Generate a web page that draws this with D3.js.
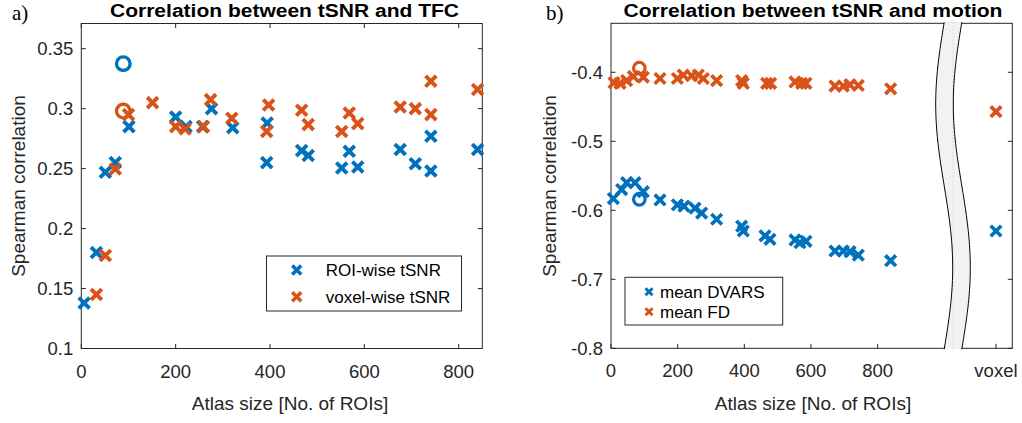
<!DOCTYPE html>
<html><head><meta charset="utf-8">
<script src="https://cdn.jsdelivr.net/npm/d3@7/dist/d3.min.js"></script>
<style>
html,body{margin:0;padding:0;background:#fff;}
svg{display:block;font-family:"Liberation Sans",Arial,sans-serif;}
</style></head>
<body>
<svg id="chart" width="1022" height="423"></svg>
<script>
// ---------- data ----------
// panel a) correlation between tSNR and TFC
const roiX = [6, 32, 51, 72, 101, 200, 222, 257, 276, 321, 394, 393, 467, 481, 552, 568, 586, 676, 708, 741, 741, 840];
const roiY = [0.138, 0.180, 0.247, 0.255, 0.285, 0.293, 0.285, 0.285, 0.300, 0.284, 0.288, 0.255, 0.265, 0.261, 0.2505, 0.2645, 0.2514, 0.266, 0.254, 0.248, 0.277, 0.266];
const voxX = [32, 51, 72, 100, 151, 200, 220, 259, 274, 319, 397, 393, 467, 481, 552, 568, 586, 676, 708, 741, 741, 840];
const voxY = [0.145, 0.1775, 0.2497, 0.295, 0.305, 0.285, 0.283, 0.285, 0.3075, 0.292, 0.303, 0.281, 0.2986, 0.2867, 0.281, 0.2964, 0.2875, 0.3014, 0.300, 0.295, 0.3228, 0.316];
const highlightA = [{x: 89, y: 0.3375, s: 0}, {x: 89, y: 0.298, s: 1}];
const seriesA = ["ROI-wise tSNR", "voxel-wise tSNR"];
const xTicksA = [0, 200, 400, 600, 800];
const yTicksA = [0.1, 0.15, 0.2, 0.25, 0.3, 0.35];

// panel b) correlation between tSNR and motion
const dvarsX = [7, 32, 47, 72, 97, 147, 199, 219, 252, 272, 317, 392, 397, 462, 477, 552, 567, 585, 672, 697, 717, 742, 839];
const dvarsY = [-0.583, -0.570, -0.560, -0.560, -0.573, -0.585, -0.592, -0.594, -0.597, -0.604, -0.613, -0.623, -0.630, -0.637, -0.642, -0.643, -0.647, -0.645, -0.659, -0.659, -0.660, -0.665, -0.673];
const fdX = [9, 27, 47, 67, 97, 147, 199, 217, 242, 262, 277, 317, 392, 397, 467, 479, 552, 572, 585, 672, 697, 717, 742, 839];
const fdY = [-0.415, -0.416, -0.412, -0.406, -0.407, -0.409, -0.409, -0.404, -0.405, -0.404, -0.409, -0.412, -0.412, -0.416, -0.416, -0.416, -0.414, -0.416, -0.416, -0.420, -0.420, -0.418, -0.419, -0.424];
const highlightB = [{x: 85, y: -0.584, s: 0}, {x: 85, y: -0.394, s: 1}];
const voxelX = 1155;
const voxelDvars = -0.630;
const voxelFd = -0.457;
const seriesB = ["mean DVARS", "mean FD"];
const xTicksB = [0, 200, 400, 600, 800];
const yTicksB = [-0.8, -0.7, -0.6, -0.5, -0.4];

const colors = ["#0072BD", "#D95319"];
const axisCol = "#262626";

const svg = d3.select("#chart");

function crossPath(s) {
  return `M${-s},${-s}L${s},${s}M${-s},${s}L${s},${-s}`;
}

function drawCrosses(g, xs, ys, x, y, col, s, w) {
  g.selectAll(null).data(xs.map((d, i) => [d, ys[i]])).enter().append("path")
    .attr("transform", d => `translate(${x(d[0])},${y(d[1])})`)
    .attr("d", crossPath(s))
    .attr("stroke", col).attr("stroke-width", w).attr("fill", "none");
}

function frame(g, x, y, xTicks, yTicks, opts) {
  const [x0, x1] = x.range();
  const [y0, y1] = y.range(); // y0 bottom, y1 top
  const tl = 4.5;
  g.append("rect").attr("x", x0).attr("y", y1).attr("width", x1 - x0).attr("height", y0 - y1)
    .attr("fill", "none").attr("stroke", axisCol).attr("stroke-width", 1);
  xTicks.forEach(t => {
    const px = x(t);
    g.append("line").attr("x1", px).attr("x2", px).attr("y1", y0).attr("y2", y0 - tl).attr("stroke", axisCol);
    if (opts.topTicks) g.append("line").attr("x1", px).attr("x2", px).attr("y1", y1).attr("y2", y1 + tl).attr("stroke", axisCol);
  });
  yTicks.forEach(t => {
    const py = y(t);
    g.append("line").attr("x1", x0).attr("x2", x0 + tl).attr("y1", py).attr("y2", py).attr("stroke", axisCol);
    g.append("line").attr("x1", x1).attr("x2", x1 - tl).attr("y1", py).attr("y2", py).attr("stroke", axisCol);
  });
}

function tickLabels(g, x, y, xTicks, xLab, yTicks, yLab) {
  const [x0] = x.range();
  const [y0] = y.range();
  g.selectAll(null).data(xTicks).enter().append("text")
    .attr("x", d => x(d)).attr("y", y0 + 29).attr("text-anchor", "middle")
    .attr("font-size", 18.5).attr("fill", axisCol).text((d, i) => xLab(d, i));
  g.selectAll(null).data(yTicks).enter().append("text")
    .attr("x", x0 - 8).attr("y", d => y(d) + 6.5).attr("text-anchor", "end")
    .attr("font-size", 18.5).attr("fill", axisCol).text(d => yLab(d));
}

// ================= panel a =================
const xA = d3.scaleLinear().domain([0, 850]).range([81.3, 482.3]);
const yA = d3.scaleLinear().domain([0.1, 0.371]).range([348.5, 23.5]);
const gA = svg.append("g");
frame(gA, xA, yA, xTicksA, yTicksA, {topTicks: true});
tickLabels(gA, xA, yA, xTicksA, d => d3.format("d")(d), yTicksA, d => d3.format("~g")(d));

drawCrosses(gA, roiX, roiY, xA, yA, colors[0], 5.4, 3.9);
drawCrosses(gA, voxX, voxY, xA, yA, colors[1], 5.4, 3.9);
gA.selectAll(null).data(highlightA).enter().append("circle")
  .attr("cx", d => xA(d.x)).attr("cy", d => yA(d.y)).attr("r", 6.8)
  .attr("fill", "none").attr("stroke", d => colors[d.s]).attr("stroke-width", 3.4);

// legend a
const legA = gA.append("g");
legA.append("rect").attr("x", 266.5).attr("y", 256).attr("width", 195).attr("height", 55)
  .attr("fill", "#fff").attr("stroke", axisCol).attr("stroke-width", 1);
seriesA.forEach((name, i) => {
  const cy = 270 + i * 26.7;
  legA.append("path").attr("transform", `translate(296.7,${cy})`).attr("d", crossPath(4.5))
    .attr("stroke", colors[i]).attr("stroke-width", 3.6).attr("fill", "none");
  legA.append("text").attr("x", 325.7).attr("y", cy + 6).attr("font-size", 17)
    .attr("fill", "#000").text(name);
});

// titles/labels a
svg.append("text").attr("x", 284.5).attr("y", 17).attr("text-anchor", "middle")
  .attr("font-size", 17.5).attr("font-weight", "bold").attr("fill", "#000")
  .attr("textLength", 349).attr("lengthAdjust", "spacingAndGlyphs")
  .text("Correlation between tSNR and TFC");
svg.append("text").attr("x", 12).attr("y", 20).attr("font-family", "'Liberation Serif',serif")
  .attr("font-size", 21).attr("fill", "#000").text("a)");
svg.append("text").attr("transform", "translate(25,186) rotate(-90)").attr("text-anchor", "middle")
  .attr("font-size", 19).attr("fill", axisCol).text("Spearman correlation");
svg.append("text").attr("x", 290).attr("y", 410).attr("text-anchor", "middle")
  .attr("font-size", 19).attr("fill", axisCol).text("Atlas size [No. of ROIs]");

// ================= panel b =================
const xB = d3.scaleLinear().domain([0, 1204]).range([611, 1012.3]);
const yB = d3.scaleLinear().domain([-0.8, -0.329]).range([348.3, 23.3]);
const gB = svg.append("g");
frame(gB, xB, yB, xTicksB.concat([voxelX]), yTicksB, {topTicks: false});
tickLabels(gB, xB, yB, xTicksB.concat([voxelX]), (d) => d === voxelX ? "voxel" : d3.format("d")(d),
  yTicksB, d => d3.format(".1f")(d).replace("−", "-"));

drawCrosses(gB, dvarsX, dvarsY, xB, yB, colors[0], 5.3, 3.7);
drawCrosses(gB, fdX, fdY, xB, yB, colors[1], 5.3, 3.7);
drawCrosses(gB, [voxelX], [voxelDvars], xB, yB, colors[0], 5.3, 3.7);
drawCrosses(gB, [voxelX], [voxelFd], xB, yB, colors[1], 5.3, 3.7);
gB.selectAll(null).data(highlightB).enter().append("circle")
  .attr("cx", d => xB(d.x)).attr("cy", d => yB(d.y)).attr("r", 5.8)
  .attr("fill", "none").attr("stroke", d => colors[d.s]).attr("stroke-width", 3.2);

// axis break band
(function () {
  const top = yB.range()[1] - 1, bot = yB.range()[0] + 1;
  const cx = 953, half = 8.8, amp = 8.5;
  const ys = d3.range(0, 101).map(i => top + (bot - top) * i / 100);
  const off = yy => -amp * Math.sin(2 * Math.PI * (yy - top) / (bot - top));
  const left = ys.map(yy => [cx - half + off(yy), yy]);
  const right = ys.map(yy => [cx + half + off(yy), yy]);
  const line = d3.line();
  gB.append("path").attr("d", line(left.concat(right.slice().reverse())) + "Z")
    .attr("fill", "#f2f2f2").attr("stroke", "none");
  gB.append("line").attr("x1", cx).attr("x2", cx).attr("y1", top).attr("y2", bot)
    .attr("stroke", "#d0d0d0").attr("stroke-width", 0.8).attr("stroke-dasharray", "1.5,2");
  gB.append("path").attr("d", line(left)).attr("fill", "none").attr("stroke", "#000").attr("stroke-width", 1);
  gB.append("path").attr("d", line(right)).attr("fill", "none").attr("stroke", "#000").attr("stroke-width", 1);
})();

// legend b
const legB = gB.append("g");
legB.append("rect").attr("x", 625).attr("y", 277.3).attr("width", 157.7).attr("height", 47.7)
  .attr("fill", "#fff").attr("stroke", axisCol).attr("stroke-width", 1);
seriesB.forEach((name, i) => {
  const cy = 291.7 + i * 20;
  legB.append("path").attr("transform", `translate(649,${cy})`).attr("d", crossPath(3.5))
    .attr("stroke", colors[i]).attr("stroke-width", 3).attr("fill", "none");
  legB.append("text").attr("x", 660).attr("y", cy + 6).attr("font-size", 17)
    .attr("fill", "#000").text(name);
});

svg.append("text").attr("x", 813).attr("y", 17).attr("text-anchor", "middle")
  .attr("font-size", 17.5).attr("font-weight", "bold").attr("fill", "#000")
  .attr("textLength", 379).attr("lengthAdjust", "spacingAndGlyphs")
  .text("Correlation between tSNR and motion");
svg.append("text").attr("x", 546).attr("y", 20).attr("font-family", "'Liberation Serif',serif")
  .attr("font-size", 21).attr("fill", "#000").text("b)");
svg.append("text").attr("transform", "translate(556,186) rotate(-90)").attr("text-anchor", "middle")
  .attr("font-size", 19).attr("fill", axisCol).text("Spearman correlation");
svg.append("text").attr("x", 813).attr("y", 410).attr("text-anchor", "middle")
  .attr("font-size", 19).attr("fill", axisCol).text("Atlas size [No. of ROIs]");
</script>
</body></html>
